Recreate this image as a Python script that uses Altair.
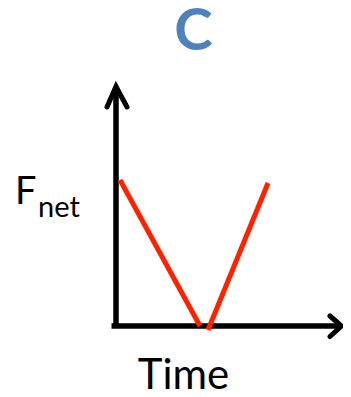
import altair as alt
import pandas as pd

# ---- labels ----
title_text = ["C"]
x_label = ["Time"]
y_label_main = ["F"]
y_label_sub = ["net"]

# ---- red force curve: two straight pieces (time, net force) ----
seg1_t = [0.5, 8.5]
seg1_f = [14.6, 0.0]
seg2_t = [9.3, 15.3]
seg2_f = [-0.4, 14.3]

# ---- axes with arrowheads ----
yaxis_x = [0.1, 0.1]
yaxis_y = [-0.15, 23.8]
xaxis_x = [-0.35, 22.6]
xaxis_y = [0.0, 0.0]
yarrow_x = [-0.8, 0.1, 1.2]
yarrow_y = [21.9, 23.95, 21.9]
xarrow_x = [21.5, 22.65, 21.5]
xarrow_y = [1.0, 0.0, -1.05]

xs = alt.Scale(domain=[-10.7, 22.8], nice=False, zero=False)
ys = alt.Scale(domain=[-6.3, 31.8], nice=False, zero=False)


def line_layer(xv, yv, color, width, cap="butt", opacity=1.0):
    df = pd.DataFrame({"x": xv, "y": yv, "i": list(range(len(xv)))})
    return alt.Chart(df).mark_line(
        color=color, strokeWidth=width, strokeCap=cap, strokeJoin="miter",
        opacity=opacity, clip=False
    ).encode(
        x=alt.X("x:Q", scale=xs, axis=None),
        y=alt.Y("y:Q", scale=ys, axis=None),
        order="i:O",
    )


def text_layer(txt, xv, yv, size, color="#000000", weight="normal", align="left"):
    df = pd.DataFrame({"t": txt, "x": [xv], "y": [yv]})
    return alt.Chart(df).mark_text(
        font="Lato", fontSize=size, fontWeight=weight, color=color,
        align=align, baseline="alphabetic", clip=False
    ).encode(
        x=alt.X("x:Q", scale=xs, axis=None),
        y=alt.Y("y:Q", scale=ys, axis=None),
        text="t:N",
    )


layers = [
    line_layer(yaxis_x, yaxis_y, "#000000", 5.5),
    line_layer(xaxis_x, xaxis_y, "#000000", 5.5),
    line_layer(yarrow_x, yarrow_y, "#000000", 5, cap="round"),
    line_layer(xarrow_x, xarrow_y, "#000000", 5, cap="round"),
    line_layer(seg1_t, seg1_f, "#FF2200", 5),
    line_layer(seg2_t, seg2_f, "#FF2200", 5),
    text_layer(title_text, 7.85, 27.6, 58, color="#4F81BD", weight="bold", align="center"),
    text_layer(y_label_main, -10.0, 12.2, 38),
    text_layer(y_label_sub, -7.7, 10.9, 29),
    text_layer(x_label, 6.85, -6.25, 42, align="center"),
]

chart = alt.layer(*layers).properties(
    width=335, height=381, padding=0, autosize=alt.AutoSizeParams(type="none")
).configure_view(stroke=None)

chart.save("out.html", embed_options={"renderer": "svg", "actions": False})
